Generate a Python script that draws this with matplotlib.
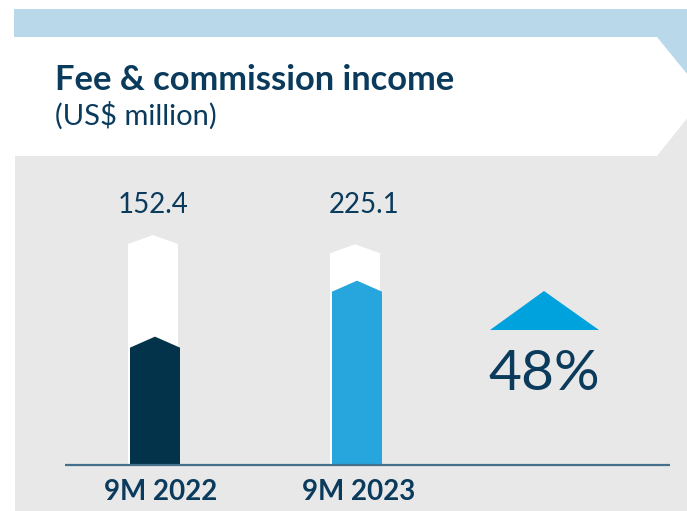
import matplotlib
matplotlib.use("Agg")
import matplotlib.pyplot as plt
from matplotlib.patches import Polygon, Rectangle

# ---- data ----
categories = ["9M 2022", "9M 2023"]
values = [152.4, 225.1]
value_labels = ["152.4", "225.1"]
growth_label = "48%"
title = "Fee & commission income"
subtitle = "(US$ million)"

# ---- styles ----
bar_colors = ["#02334b", "#27a6de"]
track_tops = [287, 275]          # decorative white track height (data units)
navy = "#0b3b5c"
band_color = "#b9d8ea"
panel_color = "#e8e8e8"
tri_color = "#00a2de"
axis_color = "#44708c"

W, H = 687, 511
fig = plt.figure(figsize=(W / 100, H / 100), dpi=100)
fig.patch.set_facecolor("white")

def fx(x):
    return x / W

def fy(y):
    return 1 - y / H

# background decoration (figure coords)
fig.patches.append(Rectangle((fx(14), fy(96)), fx(687) - fx(14), fy(9) - fy(96),
                             transform=fig.transFigure, facecolor=band_color, edgecolor="none", zorder=-3))
fig.patches.append(Rectangle((fx(15), fy(511)), fx(687) - fx(15), fy(96) - fy(511),
                             transform=fig.transFigure, facecolor=panel_color, edgecolor="none", zorder=-3))
hdr = [(14, 37), (657, 37), (705, 96), (657, 156), (14, 156)]
fig.patches.append(Polygon([(fx(x), fy(y)) for x, y in hdr], closed=True,
                           transform=fig.transFigure, facecolor="white", edgecolor="none", zorder=-2))

# titles
fig.text(fx(55), fy(90), title, fontsize=24.8, fontweight="bold", color=navy,
         family=["Lato", "DejaVu Sans"], va="baseline", ha="left", zorder=3)
fig.text(fx(55), fy(125), subtitle, fontsize=21, color=navy,
         family=["Lato", "DejaVu Sans"], va="baseline", ha="left", zorder=3)

# bar axes: baseline at y=465px, top at 156px
ax = fig.add_axes([fx(14), fy(465), fx(687) - fx(14), fy(156) - fy(465)])
ax.set_zorder(2)
ax.patch.set_visible(False)
px_per_unit = 0.77
ax.set_ylim(0, 309 / px_per_unit)
spacing = 202.0
ax.set_xlim(-(155 - 14) / spacing, 1 + (687 - 357) / spacing)
for s in ax.spines.values():
    s.set_visible(False)
ax.set_xticks([])
ax.set_yticks([])

bw = 50 / spacing
tip = 11 / px_per_unit
track_shift = -2 / spacing

def pointed(xc, top, w, t):
    return [(xc - w / 2, 0), (xc - w / 2, top), (xc, top + t), (xc + w / 2, top), (xc + w / 2, 0)]

for i, (v, c, tt) in enumerate(zip(values, bar_colors, track_tops)):
    ax.add_patch(Polygon(pointed(i + track_shift, tt, bw, 9 / px_per_unit), closed=True,
                         facecolor="white", edgecolor="none", zorder=2))
    ax.add_patch(Polygon(pointed(i, v, bw, tip), closed=True,
                         facecolor=c, edgecolor="none", zorder=3))

# axis line
ax.plot([(65 - 155) / spacing, 1 + (670 - 357) / spacing], [0, 0], color=axis_color,
        lw=1.6, solid_capstyle="butt", zorder=4, clip_on=False)

# value labels
label_y = (465 - 213) / px_per_unit
val_dx = [-2, 7]
for i, (lab, dx) in enumerate(zip(value_labels, val_dx)):
    ax.annotate(lab, xy=(i, label_y), xytext=(dx, 0), textcoords="offset pixels",
                ha="center", va="baseline", fontsize=20, color=navy,
                family=["Lato", "DejaVu Sans"])

# category labels
cat_dx = [6, 2]
for i, (lab, dx) in enumerate(zip(categories, cat_dx)):
    ax.annotate(lab, xy=(i, 0), xytext=(dx, -(500 - 465)), textcoords="offset pixels",
                ha="center", va="baseline", fontsize=20, fontweight="bold", color=navy,
                family=["Lato", "DejaVu Sans"], annotation_clip=False)

# growth triangle and label
tri = [(544, 291), (490, 330), (599, 330)]
fig.patches.append(Polygon([(fx(x), fy(y)) for x, y in tri], closed=True,
                           transform=fig.transFigure, facecolor=tri_color, edgecolor="none", zorder=3))
fig.text(fx(544), fy(390), growth_label, fontsize=41, color=navy,
         family=["Lato", "DejaVu Sans"], ha="center", va="baseline", zorder=3)

fig.savefig("out.png", dpi=100, facecolor=fig.get_facecolor())
